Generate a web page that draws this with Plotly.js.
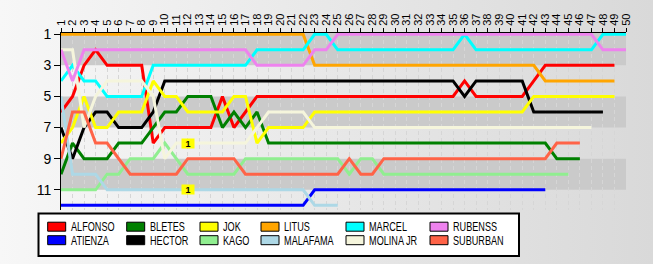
<!DOCTYPE html>
<html>
<head>
<meta charset="utf-8">
<script src="https://cdn.plot.ly/plotly-3.0.1.min.js"></script>
<style>
  html, body { margin: 0; padding: 0; }
  body { width: 653px; height: 264px; overflow: hidden;
         background: linear-gradient(to right, #f7f7f7, #d9d9d9); }
  #chart { width: 653px; height: 264px; }
</style>
</head>
<body>
<div id="chart"></div>
<script>
// Lap numbers shown along the top axis
const laps = [1,2,3,4,5,6,7,8,9,10,11,12,13,14,15,16,17,18,19,20,21,22,23,24,25,
              26,27,28,29,30,31,32,33,34,35,36,37,38,39,40,41,42,43,44,45,46,47,48,49,50];

// Race position of each driver at every completed lap
const ALFONSO   = [6,5,3,2,3,3,3,3,8,7,7,7,7,7,5,7,6,5,5,5,5,5,5,5,5,5,5,5,5,5,5,5,5,5,5,4,5,5,5,5,5,4,3,3,3,3,3,3,3];
const ATIENZA   = [12,12,12,12,12,12,12,12,12,12,12,12,12,12,12,12,12,12,12,12,12,12,11,11,11,11,11,11,11,11,11,11,11,11,11,11,11,11,11,11,11,11,11];
const BLETES    = [10,8,9,9,9,8,8,8,7,6,6,5,5,5,7,6,7,6,8,8,8,8,8,8,8,8,8,8,8,8,8,8,8,8,8,8,8,8,8,8,8,8,8,9,9,9];
const HECTOR    = [7,9,7,6,6,7,7,7,6,4,4,4,4,4,4,4,4,4,4,4,4,4,4,4,4,4,4,4,4,4,4,4,4,4,4,5,4,4,4,4,4,6,6,6,6,6,6,6];
const JOK       = [8,7,5,7,7,6,6,6,4,5,5,6,6,6,6,5,5,8,7,7,7,7,6,6,6,6,6,6,6,6,6,6,6,6,6,6,6,6,6,6,6,5,5,5,5,5,5,5,5];
const KAGO      = [11,11,11,11,10,10,9,9,9,8,9,10,10,10,10,10,9,9,9,9,9,9,9,9,9,10,9,9,10,10,10,10,10,10,10,10,10,10,10,10,10,10,10,10,10];
const LITUS     = [1,1,1,1,1,1,1,1,1,1,1,1,1,1,1,1,1,1,1,1,1,1,3,3,3,3,3,3,3,3,3,3,3,3,3,3,3,3,3,3,3,3,4,4,4,4,4,4,4];
const MALAFAMA  = [5,10,10,10,11,11,11,11,11,11,11,11,11,11,11,11,11,11,11,11,11,11,12,12,12];
const MARCEL    = [4,3,4,4,5,5,5,5,3,3,3,3,3,3,3,3,3,2,2,2,2,2,1,1,2,2,2,2,2,2,2,2,2,2,2,1,2,2,2,2,2,2,2,2,2,2,2,1,1,1];
const MOLINA_JR = [2,2,7,5,4,4,4,4,5,9,8,8,8,8,8,8,8,7,6,6,6,6,7,7,7,7,7,7,7,7,7,7,7,7,7,7,7,7,7,7,7,7,7,7,7,7,7];
const RUBENSS   = [2,4,2,2,2,2,2,2,2,2,2,2,2,2,2,2,2,3,3,3,3,3,2,2,1,1,1,1,1,1,1,1,1,1,1,1,1,1,1,1,1,1,1,1,1,1,1,2,2,2];
const SUBURBAN  = [9,6,6,8,8,9,10,10,10,10,10,9,9,9,9,9,10,10,10,10,10,10,10,10,10,9,10,10,9,9,9,9,9,9,9,9,9,9,9,9,9,9,9,8,8,8];

// Drivers in drawing order, with their colours
const drivers = ['ALFONSO','ATIENZA','BLETES','HECTOR','JOK','KAGO','LITUS','MALAFAMA','MARCEL','MOLINA JR','RUBENSS','SUBURBAN'];
const series  = [ALFONSO, ATIENZA, BLETES, HECTOR, JOK, KAGO, LITUS, MALAFAMA, MARCEL, MOLINA_JR, RUBENSS, SUBURBAN];
const colors  = ['#ff0000','#0000ff','#008000','#000000','#ffff00','#90ee90','#ffa500','#add8e6','#00ffff','#f5f5dc','#ee82ee','#ff6347'];

// Pit-stop markers
const pitLaps = [12, 12];
const pitPos  = [8, 11];
const pitText = ['1', '1'];

const positionTicks = [1, 3, 5, 7, 9, 11];

// Plot-area geometry in pixels
const W = 653, H = 264;
const L = 61, R = 626, T = 33, B = 210;
const px = v => (v - L) / (R - L);
const py = v => (B - v) / (B - T);

const traces = drivers.map((name, i) => ({
  type: 'scatter',
  mode: 'lines',
  name: name,
  x: laps.slice(0, series[i].length),
  y: series[i],
  line: { color: colors[i], width: 3, shape: 'linear' },
  hoverinfo: 'name+y',
  showlegend: false
}));

const shapes = [];
// alternating position bands
const bands = [[0.92, 3, '#cacaca'], [5, 7, '#cacaca'], [9, 11, '#cacaca']];
bands.forEach(b => shapes.push({
  type: 'rect', xref: 'paper', yref: 'y', x0: 0, x1: 1, y0: b[0], y1: b[1],
  fillcolor: b[2], line: { width: 0 }, layer: 'below'
}));

// legend box
const legendBox = { x0: 38.5, x1: 519, y0: 213.5, y1: 256 };
shapes.push({
  type: 'rect', xref: 'paper', yref: 'paper',
  x0: px(legendBox.x0), x1: px(legendBox.x1), y0: py(legendBox.y1), y1: py(legendBox.y0),
  fillcolor: '#ffffff', line: { color: '#000000', width: 2 }, layer: 'above'
});

const colX = [47.7, 126.7, 200, 261, 346, 430];
const rowY = [226.7, 240.2];
const annotations = [];
drivers.forEach((name, i) => {
  // legend order: alphabetical, filled column by column
  const col = Math.floor(i / 2), row = i % 2;
  const sx = colX[col], sy = rowY[row];
  shapes.push({
    type: 'rect', xref: 'paper', yref: 'paper',
    x0: px(sx), x1: px(sx + 18), y0: py(sy + 4.5), y1: py(sy - 4.5),
    fillcolor: colors[i], line: { color: '#000000', width: 1 }, layer: 'above'
  });
  annotations.push({
    xref: 'paper', yref: 'paper', x: px(sx + 21), y: py(sy + 0.5),
    xanchor: 'left', yanchor: 'middle', showarrow: false, text: name,
    font: { family: '"Liberation Sans", Arial, sans-serif', size: 12, color: '#000000' }
  });
});

pitLaps.forEach((lap, i) => annotations.push({
  x: lap, y: pitPos[i], xref: 'x', yref: 'y', text: pitText[i], showarrow: false,
  bgcolor: '#ffff00', width: 12, height: 9, borderpad: 0,
  font: { family: '"Liberation Sans", Arial, sans-serif', size: 9, color: '#000000', weight: 'bold' }
}));

const layout = {
  width: W, height: H,
  margin: { l: L, r: W - R, t: T, b: H - B, pad: 0 },
  paper_bgcolor: 'rgba(0,0,0,0)',
  plot_bgcolor: 'rgba(0,0,0,0)',
  showlegend: false,
  xaxis: {
    side: 'top', range: [1, 50], tickmode: 'array', tickvals: laps, ticktext: laps.map(String),
    tickangle: -90, ticks: 'outside', ticklen: 4, tickcolor: '#000000',
    tickfont: { family: '"Liberation Sans", Arial, sans-serif', size: 11, color: '#000000' },
    showline: true, linecolor: '#000000', linewidth: 1,
    showgrid: true, gridcolor: '#d6d6d6', gridwidth: 1, griddash: '4px,3px',
    zeroline: false, fixedrange: true
  },
  yaxis: {
    range: [12.3, 0.92], tickmode: 'array', tickvals: positionTicks, ticktext: positionTicks.map(String),
    ticks: 'outside', ticklen: 6, tickcolor: '#000000',
    tickfont: { family: '"Liberation Sans", Arial, sans-serif', size: 14, color: '#000000' },
    showline: true, linecolor: '#000000', linewidth: 1,
    showgrid: false, zeroline: false, fixedrange: true
  },
  shapes: shapes,
  annotations: annotations
};

Plotly.newPlot('chart', traces, layout, { displayModeBar: false, staticPlot: true }).then(gd => {
  // legend labels use a condensed face
  gd.querySelectorAll('.annotation-text').forEach(t => {
    if (drivers.includes(t.textContent)) {
      t.style.transformBox = 'fill-box';
      t.style.transformOrigin = 'left center';
      t.style.transform = 'scaleX(0.76)';
    }
  });
});
</script>
</body>
</html>
